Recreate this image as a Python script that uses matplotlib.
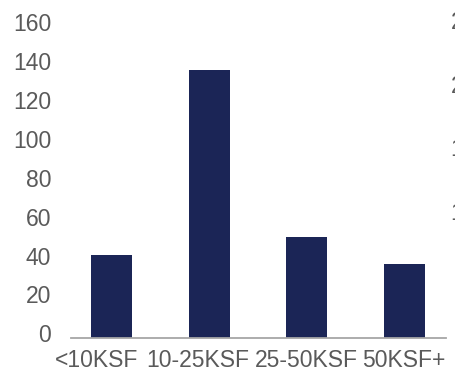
import matplotlib
matplotlib.use("Agg")
import matplotlib.pyplot as plt
import matplotlib.transforms as mtransforms

# data
categories = ["<10KSF", "10-25KSF", "25-50KSF", "50KSF+"]
counts = [43, 138, 52, 38]
left_ticks = [0, 20, 40, 60, 80, 100, 120, 140, 160]
right_ticks = [0, 5, 10, 15, 20, 25]

bar_color = "#1b2556"
text_color = "#5a5a5a"
# the category labels run as a tight row, not exactly under the bars (pixels)
label_nudge = [-15, -11, 0, -1]

plt.rcParams["font.family"] = ["Liberation Sans", "DejaVu Sans"]

fig = plt.figure(figsize=(4.56, 3.73), dpi=100)
ax = fig.add_axes([0.155, 0.093, 0.822, 0.853])

x = list(range(len(categories)))
ax.bar(x, counts, width=0.42, color=bar_color, zorder=2)

ax.set_xlim(-0.418, 3.42)
ax.set_ylim(0, 163.6)
ax.set_yticks(left_ticks)
ax.set_xticks(x)
ax.set_xticklabels(categories)

for side in ["top", "right", "left"]:
    ax.spines[side].set_visible(False)
ax.spines["bottom"].set_color("#a6a6a6")
ax.spines["bottom"].set_linewidth(1.3)

ax.tick_params(axis="both", length=0, labelsize=16.5, labelcolor=text_color)
ax.tick_params(axis="y", pad=14)
ax.tick_params(axis="x", pad=8)

# left labels sit a little above their values in the reference
shift = mtransforms.ScaledTranslation(0, 0.05, fig.dpi_scale_trans)
for lab in ax.get_yticklabels():
    lab.set_transform(lab.get_transform() + shift)

for lab, dx in zip(ax.get_xticklabels(), label_nudge):
    lab.set_transform(lab.get_transform()
                      + mtransforms.ScaledTranslation(dx / 100, 0, fig.dpi_scale_trans))

# secondary axis, mostly cut off at the right edge
ax2 = ax.twinx()
ax2.set_ylim(0, 25)
ax2.set_yticks(right_ticks)
for side in ["top", "right", "left", "bottom"]:
    ax2.spines[side].set_visible(False)
ax2.tick_params(axis="y", length=0, labelsize=16.5, labelcolor=text_color, pad=22)
for lab in ax2.get_yticklabels():
    lab.set_horizontalalignment("right")

fig.savefig("out.png", dpi=100)
